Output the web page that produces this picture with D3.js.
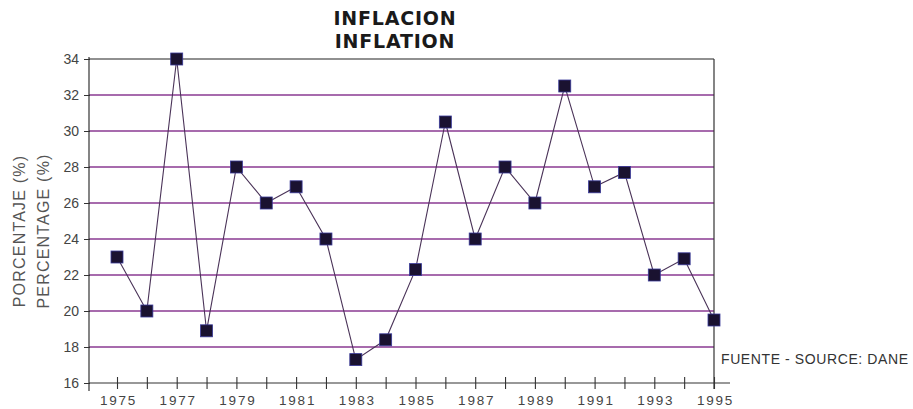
<!DOCTYPE html>
<html><head><meta charset="utf-8">
<script src="https://cdn.jsdelivr.net/npm/d3@7"></script>
<style>body{margin:0;background:#fff}svg{display:block}</style>
</head><body>
<script>
const years = d3.range(1975, 1996);
const inflation = [23.0, 20.0, 34.0, 18.9, 28.0, 26.0, 26.9, 24.0, 17.3, 18.4, 22.3, 30.5, 24.0, 28.0, 26.0, 32.5, 26.9, 27.7, 22.0, 22.9, 19.5];
const yTicks = [16, 18, 20, 22, 24, 26, 28, 30, 32, 34];
const xLabels = [1975, 1977, 1979, 1981, 1983, 1985, 1987, 1989, 1991, 1993, 1995];
const titleLines = ["INFLACION", "INFLATION"];
const yTitles = ["PORCENTAJE (%)", "PERCENTAGE (%)"];
const sourceText = "FUENTE - SOURCE:  DANE";

const W = 913, H = 409;
const svg = d3.select("body").append("svg").attr("width", W).attr("height", H);
const x = d3.scaleLinear().domain([1975, 1995]).range([117, 714]);
const y = d3.scaleLinear().domain([16, 34]).range([383, 59]);
const left = 89, right = 714;
const font = "'Liberation Sans', Arial, sans-serif";

// gridlines
svg.append("g").selectAll("line").data(yTicks.filter(v => v > 16 && v < 34)).join("line")
  .attr("x1", left).attr("x2", right).attr("y1", d => y(d)).attr("y2", d => y(d))
  .attr("stroke", "#8a3a92").attr("stroke-width", 1.3);
// top border
svg.append("line").attr("x1", left).attr("x2", right).attr("y1", y(34)).attr("y2", y(34))
  .attr("stroke", "#222").attr("stroke-width", 1.2);
// right border
svg.append("line").attr("x1", right).attr("x2", right).attr("y1", y(34)).attr("y2", y(16) + 6)
  .attr("stroke", "#333").attr("stroke-width", 1.2);

// y axis
const yAxis = d3.axisLeft(y).tickValues(yTicks).tickSize(6).tickPadding(3).tickFormat(d3.format("d"));
const gy = svg.append("g").attr("transform", `translate(${left},0)`).call(yAxis);
gy.select(".domain").attr("d", `M0,${y(34) - 2}V${y(16) + 8}`).attr("stroke", "#333").attr("stroke-width", 1.2);
gy.selectAll(".tick line").attr("stroke", "#333").attr("x2", -5).attr("x1", 1);
gy.selectAll(".tick text").attr("x", -10).attr("font-family", font).attr("font-size", 14).attr("fill", "#444");

// x axis
const xAxis = d3.axisBottom(x).tickValues(years).tickSize(0).tickFormat(d => xLabels.includes(d) ? d : "");
const gx = svg.append("g").attr("transform", `translate(0,${y(16)})`).call(xAxis);
gx.select(".domain").attr("d", `M${left},0H730`).attr("stroke", "#333").attr("stroke-width", 1.2);
gx.selectAll(".tick line").attr("y1", -6).attr("y2", 6).attr("stroke", "#333").attr("stroke-width", 1.1);
gx.selectAll(".tick text").attr("y", 12).attr("x", 1).attr("font-family", font).attr("font-size", 13.5)
  .attr("letter-spacing", 1.8).attr("fill", "#444");

// line
svg.append("path").datum(inflation)
  .attr("d", d3.line().x((d, i) => x(years[i])).y(d => y(d)))
  .attr("fill", "none").attr("stroke", "#4a3358").attr("stroke-width", 1.1);

// markers
svg.append("g").selectAll("rect").data(inflation).join("rect")
  .attr("x", (d, i) => x(years[i]) - 6).attr("y", d => y(d) - 6)
  .attr("width", 12).attr("height", 12)
  .attr("fill", "#1a1230").attr("stroke", "#3a3a9a").attr("stroke-width", 0.8);

// title
svg.append("g").selectAll("text").data(titleLines).join("text")
  .attr("x", 395).attr("y", (d, i) => 25 + i * 23).attr("text-anchor", "middle")
  .attr("font-family", "'DejaVu Sans', sans-serif").attr("font-weight", 700).attr("font-size", 19)
  .attr("letter-spacing", 0.8).attr("fill", "#1a1a1a").text(d => d);

// y titles
svg.append("g").selectAll("text").data(yTitles).join("text")
  .attr("transform", (d, i) => `translate(${25 + i * 24},231) rotate(-90)`).attr("text-anchor", "middle")
  .attr("font-family", font).attr("font-size", 16).attr("letter-spacing", 1.2).attr("fill", "#555").text(d => d);

// source
svg.append("text").attr("x", 721).attr("y", 364).attr("font-family", font).attr("font-size", 14)
  .attr("letter-spacing", 0.6).attr("fill", "#333").text(sourceText);
</script>
</body></html>
